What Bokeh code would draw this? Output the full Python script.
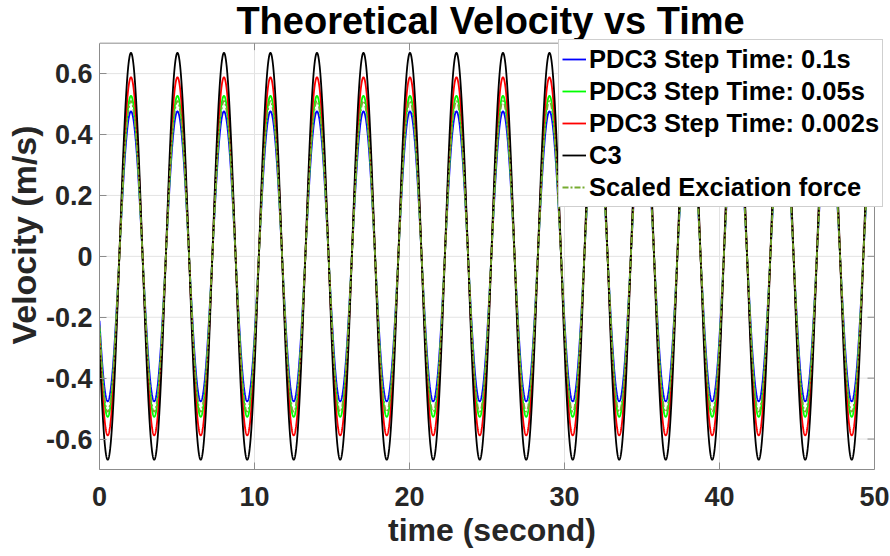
import numpy as np
from bokeh.plotting import figure
from bokeh.models import Range1d, Legend, LegendItem, Label, FixedTicker
from bokeh.embed import file_html
from bokeh.resources import INLINE

# ---- data ----
series_labels = ["PDC3 Step Time: 0.1s", "PDC3 Step Time: 0.05s",
                 "PDC3 Step Time: 0.002s", "C3", "Scaled Exciation force"]
amplitudes = [0.476, 0.527, 0.588, 0.668, 0.510]   # m/s
period_s = 3.0                                     # seconds per cycle
trough_time_s = 0.53                               # time of first minimum
t_start, t_end = 0.0, 50.0
y_min, y_max = -0.7, 0.7
x_ticks = [0, 10, 20, 30, 40, 50]
y_ticks = [-0.6, -0.4, -0.2, 0, 0.2, 0.4, 0.6]
y_tick_labels = {-0.6: "-0.6", -0.4: "-0.4", -0.2: "-0.2", 0: "0",
                 0.2: "0.2", 0.4: "0.4", 0.6: "0.6"}

# ---- styles / layout ----
colors = ["#0000ff", "#00ff00", "#ff0000", "#000000", "#77ac30"]
dashes = ["solid", "solid", "solid", "solid", "6 2 2 2"]
FONT = "Liberation Sans"
AX = "#8c8c8c"
TXT = "#262626"
GRID = "#e3e3e3"
PX_X = 15.5      # px per second
PX_Y = 304.7     # px per m/s
X_PAD = 10 / PX_X          # frame extends a little right of the box (for the legend)
Y_PAD = 42.7 / PX_Y        # frame extends above the box (for the title)
TICK_X = 7 / PX_X
TICK_Y = 7 / PX_Y

t = np.linspace(t_start, t_end, 5001)

p = figure(width=890, height=556, output_backend="svg", toolbar_location=None,
           x_range=Range1d(t_start, t_end + X_PAD), y_range=Range1d(y_min, y_max + Y_PAD),
           min_border_left=99, min_border_right=6, min_border_top=0,
           min_border_bottom=87)
p.background_fill_color = "white"
p.border_fill_color = "white"
p.outline_line_color = None
p.grid.visible = False

# grid lines (limited to the axes box)
gx = [v for v in x_ticks if t_start < v < t_end]
p.segment(x0=gx, y0=[y_min] * len(gx), x1=gx, y1=[y_max] * len(gx),
          line_color=GRID, line_width=1)
gy = list(y_ticks)
p.segment(x0=[t_start] * len(gy), y0=gy, x1=[t_end] * len(gy), y1=gy,
          line_color=GRID, line_width=1)

renderers = []
for lab, amp, c, d in zip(series_labels, amplitudes, colors, dashes):
    v = -amp * np.cos(2 * np.pi * (t - trough_time_s) / period_s)
    r = p.line(t, v, line_color=c, line_width=1.8, line_dash=d)
    renderers.append(r)

# top and right sides of the box, with inward ticks
p.segment(x0=[t_start, t_end], y0=[y_max, y_min], x1=[t_end, t_end], y1=[y_max, y_max],
          line_color=AX, line_width=1)
p.segment(x0=x_ticks, y0=[y_max] * len(x_ticks), x1=x_ticks,
          y1=[y_max - TICK_Y] * len(x_ticks), line_color=AX, line_width=1)
p.segment(x0=[t_end] * len(y_ticks), y0=y_ticks, x1=[t_end - TICK_X] * len(y_ticks),
          y1=y_ticks, line_color=AX, line_width=1)

# axes
for ax in (p.xaxis[0], p.yaxis[0]):
    ax.major_tick_in = 7
    ax.major_tick_out = 0
    ax.minor_tick_line_color = None
    ax.axis_line_color = AX
    ax.major_tick_line_color = AX
    ax.major_label_text_font = FONT
    ax.major_label_text_font_style = "bold"
    ax.major_label_text_color = TXT
    ax.major_label_text_font_size = "27px"
    ax.axis_label_text_font = FONT
    ax.axis_label_text_font_style = "bold"
    ax.axis_label_text_color = TXT

p.xaxis.bounds = (t_start, t_end)
p.yaxis.bounds = (y_min, y_max)
p.xaxis.ticker = FixedTicker(ticks=x_ticks)
p.yaxis.ticker = FixedTicker(ticks=y_ticks)
p.yaxis.major_label_overrides = y_tick_labels
p.xaxis.axis_label = "time (second)"
p.yaxis.axis_label = "Velocity (m/s)"
p.xaxis.axis_label_text_font_size = "32px"
p.yaxis.axis_label_text_font_size = "34px"
p.xaxis.major_label_standoff = 17
p.yaxis.major_label_standoff = 7
p.xaxis.axis_label_standoff = 3
p.yaxis.axis_label_standoff = 0

# title
title = Label(x=25.23, y=0.774, text="Theoretical Velocity vs Time",
              text_align="center", text_baseline="alphabetic",
              text_font=FONT, text_font_style="bold", text_font_size="38px",
              text_color="black")
p.add_layout(title)

legend = Legend(items=[LegendItem(label=l, renderers=[r]) for l, r in zip(series_labels, renderers)],
                location=(459, 262), label_text_font=FONT, label_text_font_style="bold",
                label_text_font_size="25.5px", label_text_color="black",
                glyph_width=24, glyph_height=32, label_height=32, label_standoff=3,
                padding=3, spacing=0, margin=0, border_line_color="#a0a0a0",
                border_line_width=1, background_fill_color="white", background_fill_alpha=1)
p.add_layout(legend)

open("out.html", "w").write(file_html(p, INLINE))
